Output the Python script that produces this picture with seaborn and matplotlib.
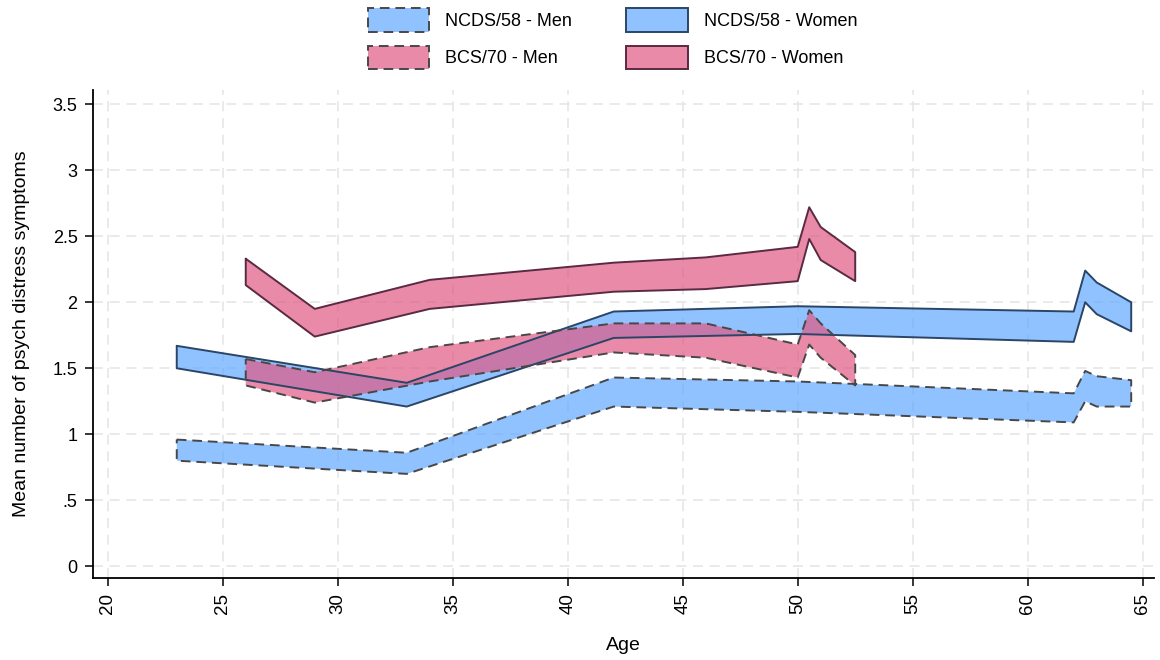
import matplotlib
matplotlib.use("Agg")
import matplotlib.pyplot as plt
import seaborn as sns
import pandas as pd
from matplotlib.patches import Patch

# Mean psychological distress, 95% CI bounds by age
ncds_age = [23, 33, 42, 50, 62, 62.5, 63, 64.5]
ncds_men_lo = [0.80, 0.70, 1.21, 1.17, 1.09, 1.25, 1.21, 1.21]
ncds_men_hi = [0.96, 0.86, 1.43, 1.40, 1.31, 1.48, 1.44, 1.41]
ncds_women_lo = [1.50, 1.21, 1.73, 1.76, 1.70, 2.00, 1.91, 1.78]
ncds_women_hi = [1.67, 1.39, 1.93, 1.97, 1.93, 2.24, 2.15, 2.00]

bcs_age = [26, 29, 34, 42, 46, 50, 50.5, 51, 52.5]
bcs_men_lo = [1.37, 1.24, 1.40, 1.62, 1.58, 1.43, 1.68, 1.58, 1.37]
bcs_men_hi = [1.57, 1.47, 1.66, 1.84, 1.84, 1.68, 1.94, 1.84, 1.60]
bcs_women_lo = [2.13, 1.74, 1.95, 2.08, 2.10, 2.16, 2.48, 2.32, 2.16]
bcs_women_hi = [2.33, 1.95, 2.17, 2.30, 2.34, 2.42, 2.72, 2.57, 2.38]

labels = ["NCDS/58 - Men", "NCDS/58 - Women", "BCS/70 - Men", "BCS/70 - Women"]
x_ticks = [20, 25, 30, 35, 40, 45, 50, 55, 60, 65]
y_ticks = [0, 0.5, 1, 1.5, 2, 2.5, 3, 3.5]
y_ticklabels = ["0", ".5", "1", "1.5", "2", "2.5", "3", "3.5"]

sns.set_style("white")
plt.rcParams["font.family"] = ["Liberation Sans", "DejaVu Sans"]
plt.rcParams["text.color"] = "black"
plt.rcParams["axes.labelcolor"] = "black"
plt.rcParams["xtick.color"] = "black"
plt.rcParams["ytick.color"] = "black"

blue = (96 / 255, 168 / 255, 1.0)
pink = (224 / 255, 89 / 255, 131 / 255)
blue_edge = "#2a4566"
pink_edge = "#5a2a42"
dash_edge = "#474747"

frames = []
for name, ages, lo, hi in [
    (labels[0], ncds_age, ncds_men_lo, ncds_men_hi),
    (labels[1], ncds_age, ncds_women_lo, ncds_women_hi),
    (labels[2], bcs_age, bcs_men_lo, bcs_men_hi),
    (labels[3], bcs_age, bcs_women_lo, bcs_women_hi),
]:
    frames.append(pd.DataFrame({"group": name, "age": ages, "lo": lo, "hi": hi}))
df = pd.concat(frames, ignore_index=True)

styles = {
    labels[0]: dict(fc=blue, ec=dash_edge, ls=(0, (5, 3))),
    labels[1]: dict(fc=blue, ec=blue_edge, ls="-"),
    labels[2]: dict(fc=pink, ec=dash_edge, ls=(0, (5, 3))),
    labels[3]: dict(fc=pink, ec=pink_edge, ls="-"),
}

fig = plt.figure(figsize=(11.6, 6.6), dpi=100)
ax = fig.add_axes([0.080, 0.124, 0.915, 0.740])

for name in labels:
    sub = df[df["group"] == name]
    st = styles[name]
    ax.fill_between(sub["age"], sub["lo"], sub["hi"], facecolor=st["fc"], alpha=0.7,
                    edgecolor="none", zorder=2)
    # outline of the confidence band as a closed polygon
    outline = pd.DataFrame({
        "age": list(sub["age"]) + list(sub["age"])[::-1] + [sub["age"].iloc[0]],
        "val": list(sub["hi"]) + list(sub["lo"])[::-1] + [sub["hi"].iloc[0]],
    })
    sns.lineplot(data=outline, x="age", y="val", sort=False, ax=ax, color=st["ec"],
                 linestyle=st["ls"], linewidth=1.4, zorder=3, estimator=None)

ax.set_xlim(19.35, 65.5)
ax.set_ylim(-0.09, 3.61)
ax.set_xticks(x_ticks)
ax.set_xticklabels([str(t) for t in x_ticks], rotation=90, fontsize=13.5)
ax.set_yticks(y_ticks)
ax.set_yticklabels(y_ticklabels, fontsize=13)
ax.grid(True, color="#e6e6e6", linestyle=(0, (6, 4)), linewidth=1.2, zorder=0)
ax.set_axisbelow(True)
for side in ["top", "right"]:
    ax.spines[side].set_visible(False)
for side in ["left", "bottom"]:
    ax.spines[side].set_color("black")
    ax.spines[side].set_linewidth(1.3)
ax.tick_params(axis="both", direction="out", length=6, width=1.1, color="black",
               left=True, bottom=True, pad=5)
ax.set_xlabel("Age", fontsize=14, labelpad=16)
ax.set_ylabel("Mean number of psych distress symptoms", fontsize=14, labelpad=16)

handles = []
for name in [labels[0], labels[2], labels[1], labels[3]]:
    st = styles[name]
    handles.append(Patch(facecolor=st["fc"] + (0.7,), edgecolor=st["ec"], linestyle=st["ls"],
                         linewidth=1.4, label=name))
fig.legend(handles=handles, loc="upper center", bbox_to_anchor=(0.528, 1.012), ncol=2,
           frameon=False, fontsize=13, handlelength=3.4, handleheight=1.6,
           columnspacing=3.0, labelspacing=0.8, handletextpad=0.9)

fig.savefig("out.png", dpi=100)
